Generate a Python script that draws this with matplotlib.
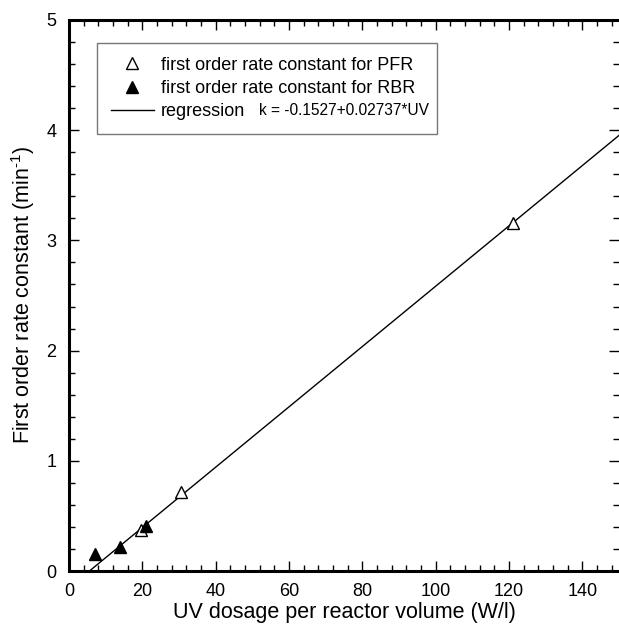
import numpy as np
import matplotlib.pyplot as plt
from matplotlib.ticker import MultipleLocator

plt.rcParams['font.family'] = ['Liberation Sans', 'DejaVu Sans']
plt.rcParams['mathtext.fontset'] = 'custom'
plt.rcParams['mathtext.rm'] = 'Liberation Sans'

# data
pfr_uv = [19.5, 30.5, 121.0]
pfr_k = [0.37, 0.72, 3.16]
rbr_uv = [7.0, 14.0, 21.0]
rbr_k = [0.15, 0.22, 0.41]
intercept = -0.1527
slope = 0.02737

fig = plt.figure(figsize=(6.19, 6.38), dpi=100)
ax = fig.add_axes([69 / 619, 67 / 638, 550 / 619, 551 / 638])

uv_line = np.array([-intercept / slope, 150])
ax.plot(uv_line, intercept + slope * uv_line, color='black', lw=1.0,
        label='regression', zorder=2)
ax.plot(pfr_uv, pfr_k, ls='none', marker='^', ms=9, mfc='white', mec='black',
        mew=1.0, label='first order rate constant for PFR', zorder=3)
ax.plot(rbr_uv, rbr_k, ls='none', marker='^', ms=9, mfc='black', mec='black',
        label='first order rate constant for RBR', zorder=3)

ax.set_xlim(0, 150)
ax.set_ylim(0, 5)
ax.xaxis.set_major_locator(MultipleLocator(20))
ax.xaxis.set_minor_locator(MultipleLocator(4))
ax.yaxis.set_major_locator(MultipleLocator(1))
ax.yaxis.set_minor_locator(MultipleLocator(0.2))
ax.tick_params(which='both', direction='in', top=True, right=True,
               labelsize=13, width=1.0)
ax.tick_params(which='major', length=7, pad=9)
ax.tick_params(which='minor', length=4)
for s in ['left', 'bottom', 'top']:
    ax.spines[s].set_linewidth(2.2)
ax.spines['right'].set_visible(False)

ax.set_xlabel('UV dosage per reactor volume (W/l)', fontsize=15.5, labelpad=1)
ax.set_ylabel(r'First order rate constant (min$^{\text{-1}}$)', fontsize=15.5,
              labelpad=7)

handles, labels = ax.get_legend_handles_labels()
order = [1, 2, 0]
leg = ax.legend([handles[i] for i in order], [labels[i] for i in order],
                loc='upper left', bbox_to_anchor=(0.051, 0.792, 0.618, 0.166),
                mode='expand', fontsize=13, frameon=True, fancybox=False,
                edgecolor='#555555', handlelength=2.4, handletextpad=0.4,
                labelspacing=0.34, borderpad=0.75, borderaxespad=0)
leg.get_frame().set_linewidth(1.0)
ax.text(0.345, 0.835, 'k = -0.1527+0.02737*UV', transform=ax.transAxes,
        fontsize=11.2, va='center', ha='left', zorder=10)

fig.savefig('out.png', dpi=100)
